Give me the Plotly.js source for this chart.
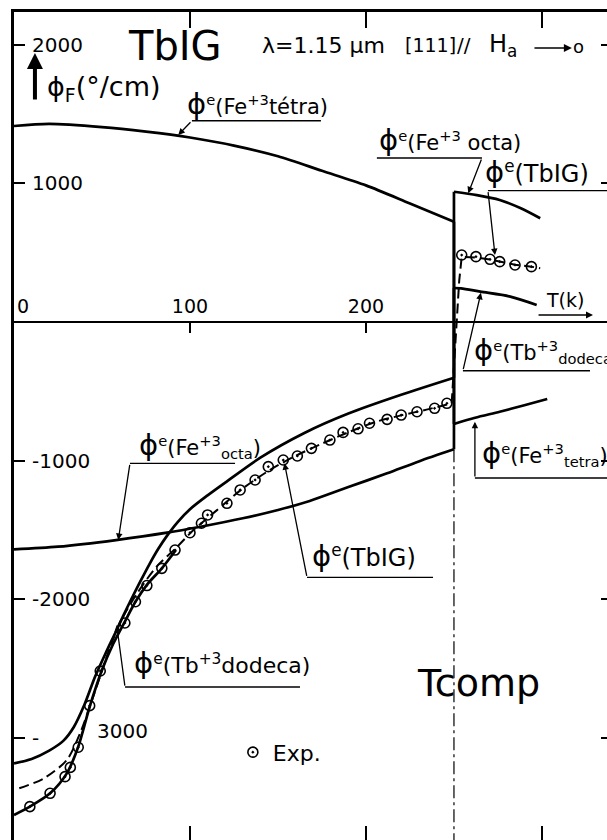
<!DOCTYPE html>
<html><head><meta charset="utf-8">
<script src="https://cdn.plot.ly/plotly-3.0.1.min.js"></script>
<style>html,body{margin:0;padding:0;overflow:hidden;background:#fff}</style>
</head><body><div id="chart"></div>
<script>
// ---------------- data (T in K, phi in deg/cm) ----------------
const TCOMP = 250;

const tetraT   = [0, 20, 50, 75, 100, 125, 150, 175, 200, 225, 250, 250, 262, 276, 290, 303];
const tetraPhi = [1413, 1428, 1405, 1372, 1330, 1272, 1195, 1090, 985, 855, 723, -735, -690, -647, -600, -555];

const octaT   = [0, 25, 58, 87, 106, 130, 150, 168, 190, 212, 230, 250, 250, 263, 276, 288, 299];
const octaPhi = [-1640, -1620, -1572, -1519, -1476, -1415, -1355, -1290, -1190, -1091, -1005, -918, 939, 915, 880, 820, 748];

const dodecaT   = [0, 10, 20, 28, 34, 40, 46, 52, 58, 62, 67, 72, 77, 82, 87, 93, 100, 110, 120, 140, 165, 190, 220, 250, 250, 254, 265, 282, 297];
const dodecaPhi = [-3182, -3150, -3090, -3020, -2920, -2760, -2560, -2390, -2230, -2120, -1990, -1865, -1745, -1635, -1540, -1442, -1350, -1250, -1158, -978, -800, -660, -525, -402, 245, 243, 219, 183, 123];

const calcT   = [3, 17, 30, 37.5, 45, 52.7, 60, 70, 81, 92, 102, 115, 130, 145, 160, 175, 190, 205, 220, 235, 248.7, 250, 251.9, 253, 254.4, 262.5, 270.5, 276, 284.7, 294, 299];
const calcPhi = [-3362, -3290, -3158, -2966, -2701, -2413, -2172, -1956, -1764, -1630, -1500, -1360, -1200, -1070, -965, -877, -795, -722, -673, -630, -586, -300, 38, 300, 470, 465, 450, 435, 413, 399, 388];

const lowT   = [0, 9, 20.5, 30, 36.5, 43, 50, 56.4, 63, 69, 75.5, 84, 92];
const lowPhi = [-3554, -3494, -3398, -3254, -3062, -2774, -2509, -2320, -2160, -2017, -1895, -1776, -1644];

const expT   = [9, 20.5, 29, 32, 36.5, 43, 49, 63, 69, 75.5, 84, 91.5, 100, 106.5, 110, 121, 128.5, 137, 144.5, 153, 161, 169, 179.5, 187, 195.5, 202, 212, 220, 229, 239, 246, 254.4, 262.5, 270.5, 276, 284.7, 294];
const expPhi = [-3494, -3398, -3278, -3211, -3066, -2766, -2516, -2170, -2017, -1900, -1776, -1644, -1519, -1451, -1391, -1307, -1211, -1139, -1043, -995, -966, -911, -851, -796, -770, -730, -702, -671, -647, -622, -586, 483, 471, 452, 435, 411, 399];

const yTickVals = [2000, 1000, -1000, -2000, -3000];
const yTickText = ['2000', '1000', '-1000', '-2000', '-'];
const xTickVals = [0, 100, 200];
const xTickText = ['\u00a0\u00a0\u00a00', '100', '200'];
const frameTickVals = [100, 200, 300];

// ---------------- layout geometry ----------------
const X_RANGE = [0, 339.8];
const Y_RANGE = [-3749, 2235];
const zeroFrac = (0 - Y_RANGE[0]) / (Y_RANGE[1] - Y_RANGE[0]);
const FONT = 'DejaVu Sans, Liberation Sans, sans-serif';

const solidSpline = {color: '#000', width: 2.7, shape: 'spline', smoothing: 0.8};
const solidLin = {color: '#000', width: 2.7};
const dashSpline = {color: '#000', width: 2, dash: '10px,5px', shape: 'spline', smoothing: 0.8};
const dashLin = {color: '#000', width: 2, dash: '10px,5px'};

function base(x, y, line, extra) {
  return Object.assign({x: x, y: y, mode: 'lines', line: line, showlegend: false, hoverinfo: 'skip'}, extra || {});
}
// split a curve at the jump (two consecutive points at TCOMP)
function jumpCurve(T, P, extra) {
  const i = T.indexOf(TCOMP);
  return [
    base(T.slice(0, i + 1), P.slice(0, i + 1), solidSpline, extra),
    base([T[i], T[i + 1]], [P[i], P[i + 1]], solidLin, extra),
    base(T.slice(i + 1), P.slice(i + 1), solidSpline, extra)
  ];
}
let lastBelow = 0;
calcT.forEach((t, k) => { if (t < TCOMP) lastBelow = k; });

const traces = [].concat(
  jumpCurve(tetraT, tetraPhi, {xaxis: 'x2'}),
  jumpCurve(octaT, octaPhi),
  jumpCurve(dodecaT, dodecaPhi),
  [base(lowT, lowPhi, solidSpline)],
  [base(calcT.slice(0, lastBelow + 1), calcPhi.slice(0, lastBelow + 1), dashSpline)],
  [base(calcT.slice(lastBelow), calcPhi.slice(lastBelow), dashLin)],
  [{x: expT, y: expPhi, mode: 'markers', name: 'Exp.',
    marker: {symbol: 'circle-open-dot', size: 10, color: '#000', line: {width: 1.6, color: '#000'}}, showlegend: true}]
);

function underline(t0, t1, p) {
  return {type: 'line', xref: 'x', yref: 'y', x0: t0, x1: t1, y0: p, y1: p, line: {color: '#000', width: 1.4}};
}
function leader(tailT, tailP, headT, headP) {
  return {x: headT, y: headP, ax: tailT, ay: tailP, axref: 'x', ayref: 'y', xref: 'x', yref: 'y',
          text: '', showarrow: true, arrowhead: 2, arrowsize: 1, arrowwidth: 1.3, arrowcolor: '#000', standoff: 0};
}
function label(t, p, text, size, anchor) {
  return {x: t, y: p, xref: 'x', yref: 'y', text: text, showarrow: false, xanchor: anchor || 'left', yanchor: 'middle',
          font: {family: FONT, size: size, color: '#000'}};
}
const PHI = '<span style="font-size:29px">ϕ</span>';

const shapes = [
  {type: 'line', xref: 'x', yref: 'y', x0: TCOMP, x1: TCOMP, y0: octaPhi[octaT.indexOf(TCOMP)], y1: Y_RANGE[0],
   line: {color: '#000', width: 1.2, dash: '13px,4px,3px,4px'}},
  underline(101.1, 174.4, 1451),
  underline(206.2, 265.9, 1182),
  underline(269.3, 340, 947),
  underline(255.1, 327.3, -351),
  underline(261.9, 340, -1125),
  underline(65.9, 125.6, -1019),
  underline(166.5, 238.1, -1841),
  underline(63.1, 162.5, -2632)
];

const annotations = [
  label(91.5, 1990, 'TbIG', 40, 'center'),
  label(139.8, 1997, 'λ=1.15 μm', 22),
  label(221.0, 1997, '[111]', 19),
  label(250.6, 1997, '//', 20),
  label(268.7, 1990, 'H<sub>a</sub>', 24),
  {x: 317.0, y: 1975, ax: 294.9, ay: 1975, axref: 'x', ayref: 'y', xref: 'x', yref: 'y', text: '', showarrow: true,
   arrowhead: 2, arrowsize: 1, arrowwidth: 1.6, arrowcolor: '#000', standoff: 0},
  label(321.0, 1983, 'o', 18, 'center'),
  label(17.6, 1687, 'ϕ<sub>F</sub>(°/cm)', 27),
  {x: 11.9, y: 1939, ax: 11.9, ay: 1593, axref: 'x', ayref: 'y', xref: 'x', yref: 'y', text: '', showarrow: true,
   arrowhead: 2, arrowsize: 0.8, arrowwidth: 4, arrowcolor: '#000', standoff: 0},
  // Fe tetra (upper)
  label(97.2, 1572, PHI + '<sup>e</sup>(Fe<sup>+3</sup>tétra)', 21),
  leader(101.1, 1451, 93.35, 1348),
  // Fe octa (upper right)
  label(206.2, 1312, PHI + '<sup>e</sup>(Fe<sup>+3</sup> octa)', 21),
  leader(265.9, 1182, 258.1, 928),
  // TbIG top right
  label(266.5, 1081, PHI + '<sup>e</sup>(TbIG)', 24),
  leader(269.3, 947, 273.3, 483),
  // T(k)
  label(313.1, 159, 'T(k)', 19, 'center'),
  {x: 329.0, y: 50, ax: 297.2, ay: 50, axref: 'x', ayref: 'y', xref: 'x', yref: 'y', text: '', showarrow: true,
   arrowhead: 2, arrowsize: 1, arrowwidth: 1.4, arrowcolor: '#000', standoff: 0},
  // Tb dodeca right
  label(260.2, -202, PHI + '<sup>e</sup>(Tb<sup>+3</sup><sub>dodeca</sub>)', 21),
  leader(255.1, -351, 265.3, 210),
  // Fe tetra right
  label(264.8, -944, PHI + '<sup>e</sup>(Fe<sup>+3</sup><sub>tetra</sub>)', 21),
  leader(261.9, -1125, 261.9, -719),
  // Fe octa left
  label(69.7, -887, PHI + '<sup>e</sup>(Fe<sup>+3</sup><sub>octa</sub>)', 21),
  leader(65.9, -1019, 59.26, -1572),
  // TbIG middle
  label(168.2, -1687, PHI + '<sup>e</sup>(TbIG)', 24),
  leader(166.5, -1841, 153.7, -1019),
  // Tb dodeca lower
  label(67.0, -2458, PHI + '<sup>e</sup>(Tb<sup>+3</sup>dodeca)', 22),
  leader(63.1, -2632, 58.35, -2185),
  label(61.4, -2949, '3000', 20, 'center'),
  label(264.2, -2603, 'Tcomp', 38, 'center')
];

const axisBase = {showgrid: false, zeroline: false, linecolor: '#000', tickcolor: '#000', fixedrange: true};

const layout = {
  width: 640, height: 860,
  margin: {l: 14, r: 28, t: 12, b: 18},
  paper_bgcolor: '#fff', plot_bgcolor: '#fff',
  font: {family: FONT, color: '#000'},
  showlegend: true,
  legend: {x: 0.366, xanchor: 'left', y: 0.108, yanchor: 'middle', bgcolor: 'rgba(0,0,0,0)', borderwidth: 0,
           font: {family: FONT, size: 22, color: '#000'}},
  xaxis: Object.assign({}, axisBase, {range: X_RANGE, showline: true, linewidth: 3, mirror: 'ticks',
           ticks: 'inside', ticklen: 16, tickwidth: 2, tickvals: frameTickVals, showticklabels: false}),
  xaxis2: Object.assign({}, axisBase, {matches: 'x', overlaying: 'x', anchor: 'free', position: zeroFrac, side: 'top',
           showline: true, linewidth: 2, ticks: 'inside', ticklen: 10, tickwidth: 2, ticklabeloverflow: 'allow',
           tickvals: xTickVals, ticktext: xTickText, tickfont: {family: FONT, size: 19, color: '#000'}}),
  yaxis: Object.assign({}, axisBase, {range: Y_RANGE, showline: true, linewidth: 3, mirror: 'ticks',
           ticks: 'inside', ticklen: 11, tickwidth: 2, tickvals: yTickVals, ticktext: yTickText,
           ticklabelposition: 'inside', ticklabelstandoff: 8, ticklabeloverflow: 'allow',
           tickfont: {family: FONT, size: 20, color: '#000'}}),
  shapes: shapes,
  annotations: annotations
};

Plotly.newPlot('chart', traces, layout, {displayModeBar: false, staticPlot: true});
</script></body></html>
